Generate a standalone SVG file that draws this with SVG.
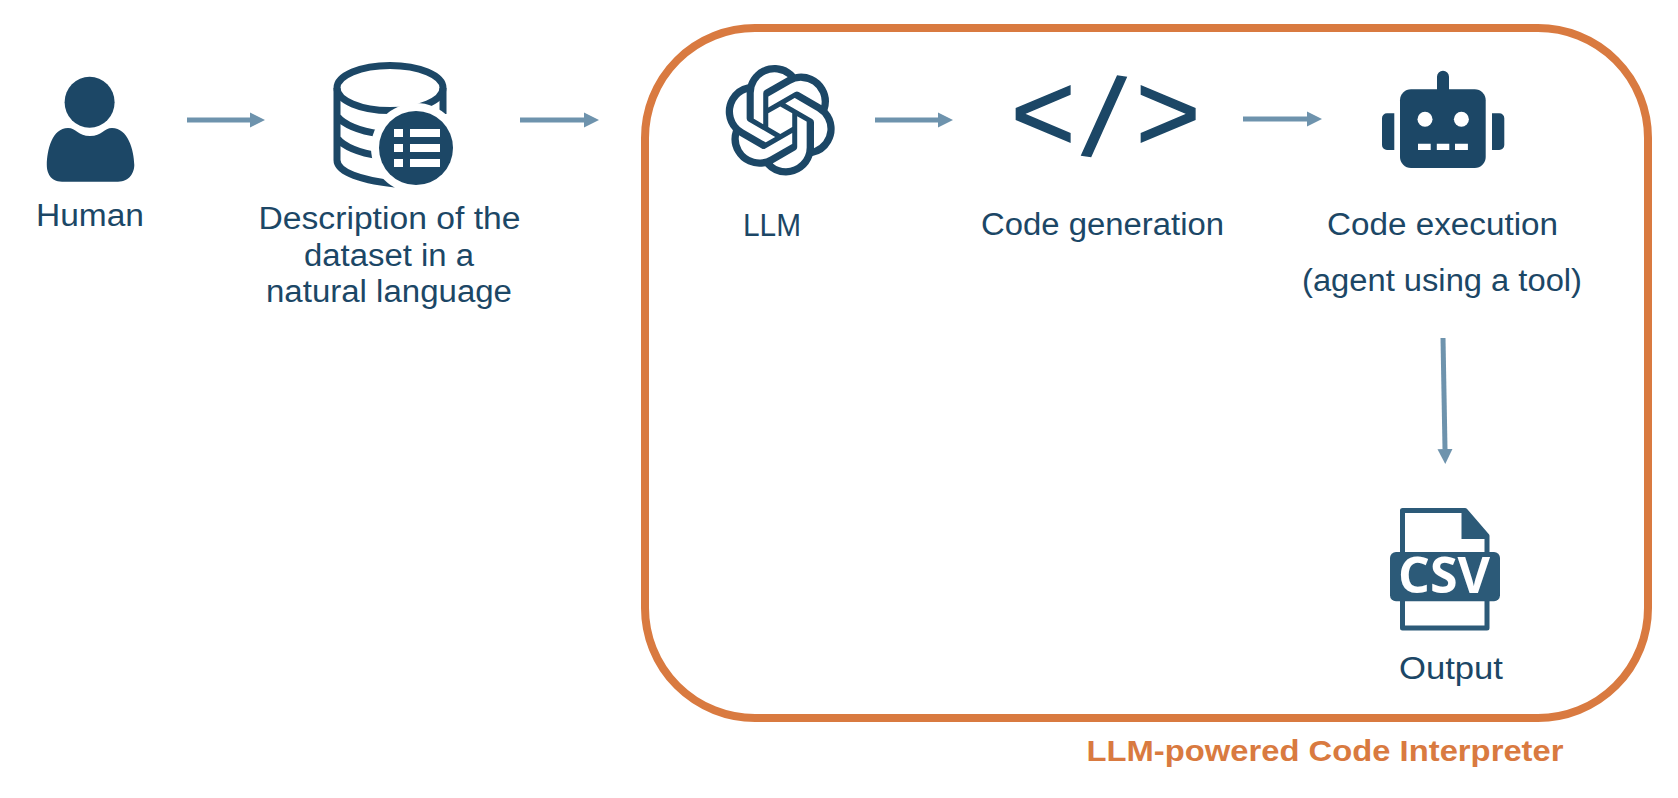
<svg xmlns="http://www.w3.org/2000/svg" width="1678" height="798" viewBox="0 0 1678 798">
<style>
.t{font-family:"Liberation Sans",Arial,sans-serif;font-size:31px;fill:#1c4766;text-anchor:middle}
.d{fill:#1c4766}
.c{stroke:#6e93ad;stroke-width:5;fill:none;marker-end:url(#a)}
.r{fill:none;stroke:#1c4766;stroke-width:7}
</style>
<defs>
<marker id="a" markerUnits="userSpaceOnUse" markerWidth="17" markerHeight="17" refX="0" refY="8" orient="auto"><path d="M0 0.5L15 8L0 15.500Z" fill="#6e93ad"/></marker>
</defs>
<rect width="1678" height="798" fill="#fff"/>
<g id="code-interpreter">
<rect x="645" y="28" width="1003" height="690" rx="110" ry="110" fill="none" stroke="#d97a40" stroke-width="8"/>
<text x="1325" y="761" textLength="477" lengthAdjust="spacingAndGlyphs" style="font-family:'Liberation Sans',Arial,sans-serif;font-size:30px;font-weight:700;fill:#d97a40;text-anchor:middle">LLM-powered Code Interpreter</text>
</g>
<g id="connectors">
<line class="c" x1="187" y1="120" x2="250" y2="120"/>
<line class="c" x1="520" y1="120" x2="584" y2="120"/>
<line class="c" x1="875" y1="120" x2="938" y2="120"/>
<line class="c" x1="1243" y1="119" x2="1307" y2="119"/>
<line class="c" x1="1443" y1="338" x2="1445" y2="449"/>
</g>
<g id="human">
<ellipse class="d" cx="89.6" cy="102.3" rx="25" ry="25.500"/>
<path class="d" d="M62 181.700C50 181.700 46.800 172 46.800 165C47 150 52 128 68 128C76 128 78 136 90 136C102 136 104 128 112 128C128 128 134 150 134.300 165C134.300 172 130 181.700 118 181.700Z"/>
<text class="t" x="90" y="226" textLength="108" lengthAdjust="spacingAndGlyphs">Human</text>
</g>
<g id="dataset">
<ellipse class="r" cx="390" cy="88" rx="53" ry="22.500"/>
<path class="r" d="M337 88V160C337 172 360 180 395 184M337 116C345 126 360 131 380 134M337 138C345 148 360 153 380 156M443 88V114"/>
<circle cx="416" cy="148" r="45" fill="#fff"/>
<circle class="d" cx="416" cy="148" r="37"/>
<path fill="#fff" d="M394 129h9v8h-9zM410 129h30v8h-30zM394 144h9v8h-9zM410 144h30v8h-30zM394 159h9v8h-9zM410 159h30v8h-30z"/>
<text class="t" x="389.500" y="229" textLength="262" lengthAdjust="spacingAndGlyphs">Description of the</text>
<text class="t" x="389" y="266" textLength="170" lengthAdjust="spacingAndGlyphs">dataset in a</text>
<text class="t" x="389" y="302" textLength="246" lengthAdjust="spacingAndGlyphs">natural language</text>
</g>
<g id="llm">
<path class="d" transform="translate(725 65) scale(4.6)" d="M22.2819 9.8211a5.9847 5.9847 0 0 0-.5157-4.9108 6.0462 6.0462 0 0 0-6.5098-2.9A6.0651 6.0651 0 0 0 4.9807 4.1818a5.9847 5.9847 0 0 0-3.9977 2.9 6.0462 6.0462 0 0 0 .7427 7.0966 5.98 5.98 0 0 0 .511 4.9107 6.051 6.051 0 0 0 6.5146 2.9001A5.9847 5.9847 0 0 0 13.2599 24a6.0557 6.0557 0 0 0 5.7718-4.2058 5.9894 5.9894 0 0 0 3.9977-2.9001 6.0557 6.0557 0 0 0-.7475-7.0729zm-9.022 12.6081a4.4755 4.4755 0 0 1-2.8764-1.0408l.1419-.0804 4.7783-2.7582a.7948.7948 0 0 0 .3927-.6813v-6.7369l2.02 1.1686a.071.071 0 0 1 .038.052v5.5826a4.504 4.504 0 0 1-4.4945 4.4944zm-9.6607-4.1254a4.4708 4.4708 0 0 1-.5346-3.0137l.142.0852 4.783 2.7582a.7712.7712 0 0 0 .7806 0l5.8428-3.3685v2.3324a.0804.0804 0 0 1-.0332.0615L9.74 19.9502a4.4992 4.4992 0 0 1-6.1408-1.6464zM2.3408 7.8956a4.485 4.485 0 0 1 2.3655-1.9728V11.6a.7664.7664 0 0 0 .3879.6765l5.8144 3.3543-2.0201 1.1685a.0757.0757 0 0 1-.071 0l-4.8303-2.7865A4.504 4.504 0 0 1 2.3408 7.872zm16.5963 3.8558L13.1038 8.364 15.1192 7.2a.0757.0757 0 0 1 .071 0l4.8303 2.7913a4.4944 4.4944 0 0 1-.6765 8.1042v-5.6772a.79.79 0 0 0-.407-.667zm2.0107-3.0231l-.142-.0852-4.7735-2.7818a.7759.7759 0 0 0-.7854 0L9.409 9.2297V6.8974a.0662.0662 0 0 1 .0284-.0615l4.8303-2.7866a4.4992 4.4992 0 0 1 6.6802 4.66zM8.3065 12.863l-2.02-1.1638a.0804.0804 0 0 1-.038-.0567V6.0742a4.4992 4.4992 0 0 1 7.3757-3.4537l-.142.0805L8.704 5.459a.7948.7948 0 0 0-.3927.6813zm1.0976-2.3654l2.602-1.4998 2.6069 1.4998v2.9994l-2.5974 1.4997-2.6067-1.4997Z"/>
<text class="t" x="772" y="236" textLength="58" lengthAdjust="spacingAndGlyphs">LLM</text>
</g>
<g id="code-generation">
<text y="150" style="font-family:'Liberation Sans',sans-serif;font-size:110px;fill:#1c4766;stroke:#1c4766;stroke-width:1.500"><tspan x="1011">&lt;</tspan><tspan x="1082" y="154" font-size="114" rotate="9">/</tspan><tspan x="1136" y="150">&gt;</tspan></text>
<text class="t" x="1102.500" y="235" textLength="243" lengthAdjust="spacingAndGlyphs">Code generation</text>
</g>
<g id="code-execution">
<rect class="d" x="1400" y="89.300" width="85.700" height="78.700" rx="11"/>
<path class="d" d="M1437 92V76.700a6 6 0 0 1 12 0V92ZM1394.300 113.300H1387a5 5 0 0 0-5 5V145a5 5 0 0 0 5 5h7.300ZM1492 113.300h7.300a5 5 0 0 1 5 5V145a5 5 0 0 1-5 5H1492Z"/>
<circle cx="1425" cy="119.300" r="7.500" fill="#fff"/>
<circle cx="1461.400" cy="119.300" r="7.500" fill="#fff"/>
<path fill="#fff" d="M1418 143.700h12.700v6.300h-12.700zM1436.800 143.700h12.500v6.300h-12.500zM1455 143.700h12.900v6.300h-12.900z"/>
<text class="t" x="1442.500" y="235" textLength="231" lengthAdjust="spacingAndGlyphs">Code execution</text>
<text class="t" x="1442" y="291" textLength="280" lengthAdjust="spacingAndGlyphs">(agent using a tool)</text>
</g>
<g id="output">
<path fill="none" stroke="#2c5a78" stroke-width="5" stroke-linejoin="round" d="M1402.500 510.500H1465L1487 536V628H1402.500Z"/>
<path fill="#2c5a78" d="M1461.500 510L1489 537V539H1461.500Z"/>
<rect x="1390" y="552" width="110" height="49.300" rx="6" fill="#2c5a78"/>
<text x="1444" y="593" textLength="92" lengthAdjust="spacingAndGlyphs" style="font-family:'Open Sans','Noto Sans',sans-serif;font-size:50px;font-weight:700;fill:#fff;text-anchor:middle">CSV</text>
<text class="t" x="1451" y="679" textLength="104" lengthAdjust="spacingAndGlyphs">Output</text>
</g>
</svg>
